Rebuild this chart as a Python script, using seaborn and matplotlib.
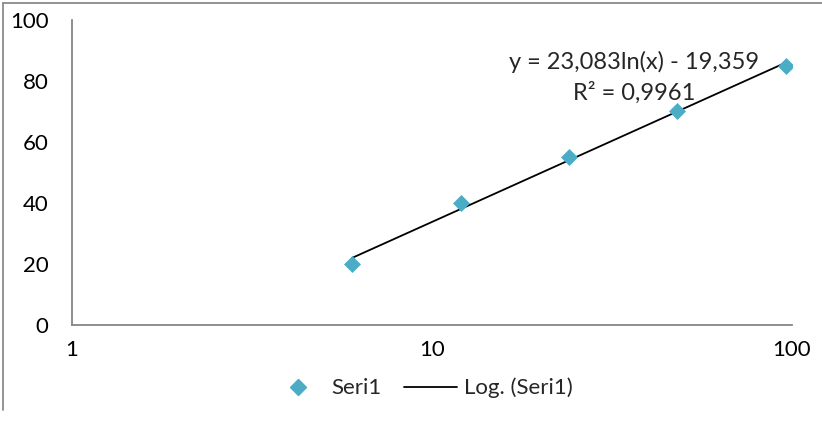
import numpy as np
import pandas as pd
import matplotlib
matplotlib.use("Agg")
import matplotlib.pyplot as plt
import seaborn as sns
from matplotlib.lines import Line2D

x_vals = [6, 12, 24, 48, 96]
y_vals = [20, 40, 55, 70, 85]
coef_a = 23.083
coef_b = -19.359
eq_text = "y = 23,083ln(x) - 19,359"
r2_text = "R² = 0,9961"
y_ticks = [0, 20, 40, 60, 80, 100]
x_ticks = [1, 10, 100]
series_name = "Seri1"
trend_name = "Log. (Seri1)"

sns.set_theme(style="white")
plt.rcParams['font.family'] = ['Lato', 'DejaVu Sans']
FS = 16

fig = plt.figure(figsize=(8.22, 4.26), dpi=100)
ax = fig.add_axes([72/822, 1-325/426, (792-72)/822, (325-20)/426])

df = pd.DataFrame({"x": x_vals, "y": y_vals})
sns.scatterplot(data=df, x="x", y="y", ax=ax, marker="D", s=75, color="#4BACC6",
                edgecolor="#4BACC6", linewidth=0, zorder=3)
xt = np.linspace(min(x_vals), max(x_vals), 200)
ax.plot(xt, coef_a*np.log(xt) + coef_b, color="black", lw=1.3, zorder=2)

ax.set_xscale("log")
ax.set_xlim(1, 100)
ax.set_ylim(0, 100)
ax.set_yticks(y_ticks)
ax.set_yticklabels([str(v) for v in y_ticks])
ax.set_xticks(x_ticks)
ax.set_xticklabels([str(v) for v in x_ticks])
ax.xaxis.set_minor_locator(matplotlib.ticker.NullLocator())
ax.set_xlabel("")
ax.set_ylabel("")
ax.tick_params(axis="y", length=0, pad=17, labelsize=FS, colors="black")
ax.tick_params(axis="x", length=0, pad=11, labelsize=FS, colors="black")
for s in ["top", "right"]:
    ax.spines[s].set_visible(False)
for s in ["left", "bottom"]:
    ax.spines[s].set_color("#868686")
    ax.spines[s].set_linewidth(1.3)

ax.text(634/822, 1-62/426, eq_text, transform=fig.transFigure, ha="center", va="center", fontsize=FS+1)
ax.text(634/822, 1-93/426, r2_text, transform=fig.transFigure, ha="center", va="center", fontsize=FS+1)

handles = [Line2D([], [], marker="D", ls="none", color="#4BACC6", markersize=8),
           Line2D([], [], color="black", lw=1.3)]
fig.legend(handles, [series_name, trend_name], loc="center", bbox_to_anchor=(422/822, 1-388/426),
           ncol=2, frameon=False, fontsize=FS, handlelength=2.4, columnspacing=1.0, handletextpad=0.3)

fig.add_artist(Line2D([3/822, 3/822], [1-3/426, 1-410/426], color="#8a8a8a", lw=1.3, transform=fig.transFigure))
fig.add_artist(Line2D([3/822, 1], [1-3/426, 1-3/426], color="#8a8a8a", lw=1.3, transform=fig.transFigure))

fig.savefig("out.png", dpi=100, facecolor="white")
